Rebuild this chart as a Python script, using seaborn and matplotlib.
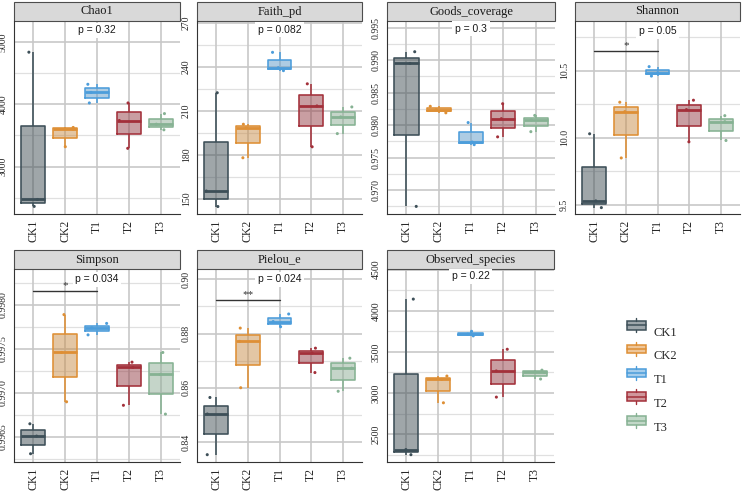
import numpy as np
import pandas as pd
import matplotlib
matplotlib.use("Agg")
import matplotlib.pyplot as plt
import seaborn as sns
from matplotlib.patches import Rectangle
from matplotlib.lines import Line2D
from matplotlib.legend_handler import HandlerBase
from matplotlib.ticker import MultipleLocator

groups = ["CK1", "CK2", "T1", "T2", "T3"]
colors = ["#3D4F58", "#DE8F35", "#4C9DDB", "#A3303A", "#86B293"]

# three replicates per group
chao1 = [[2362, 2473, 4835], [3319, 3600, 3628], [4021, 4190, 4320],
         [3293, 3739, 4021], [3590, 3680, 3850]]
faith_pd = [[144.7, 155.3, 222.4], [178.0, 198.4, 200.9], [237.5, 239.5, 250.0],
            [185.5, 213.4, 228.5], [194.5, 205.9, 212.7]]
goods_coverage = [[0.9675, 0.9895, 0.9913], [0.9819, 0.9824, 0.9829], [0.9770, 0.9774, 0.9804],
                  [0.9782, 0.9810, 0.9833], [0.9790, 0.9808, 0.9815]]
shannon = [[9.48, 9.53, 10.03], [9.85, 10.195, 10.265], [10.46, 10.485, 10.53],
           [9.97, 10.21, 10.28], [9.98, 10.12, 10.165]]
simpson = [[0.99631, 0.99651, 0.99665], [0.99690, 0.99746, 0.99789], [0.99766, 0.99774, 0.99779],
           [0.99686, 0.99729, 0.99735], [0.99676, 0.99721, 0.99746]]
pielou_e = [[0.8353, 0.8503, 0.8564], [0.8600, 0.8771, 0.8820], [0.8825, 0.8844, 0.8872],
            [0.8656, 0.8728, 0.8746], [0.8587, 0.8672, 0.8709]]
observed_species = [[2250, 2312, 4142], [2881, 3166, 3206], [3695, 3715, 3750],
                    [2950, 3268, 3532], [3170, 3250, 3278]]

metric_names = ["Chao1", "Faith_pd", "Goods_coverage", "Shannon", "Simpson", "Pielou_e", "Observed_species"]
metric_values = [chao1, faith_pd, goods_coverage, shannon, simpson, pielou_e, observed_species]
p_labels = ["p = 0.32", "p = 0.082", "p = 0.3", "p = 0.05", "p = 0.034", "p = 0.024", "p = 0.22"]
sig_labels = [None, None, None, "*", "*", "**", None]

# layout: (ylim, major step, minor step, tick format, y of p label, y of sig bar)
panel_axes = [
    ((2240, 5335), 1000, 500, "%d", 5186, None),
    ((139.6, 271.4), 30, 15, "%d", 265.5, None),
    ((0.96633, 0.99603), 0.005, 0.0025, "%.3f", 0.99486, None),
    ((9.4325, 10.87), 0.5, 0.25, "%.1f", 10.795, 10.645),
    ((0.996216, 0.998408), 0.0005, 0.00025, "%.4f", 0.998291, 0.998163),
    ((0.8326, 0.9038), 0.02, 0.01, "%.2f", 0.900, 0.89239),
    ((2161, 4508), 500, 250, "%d", 4419, None),
]

# pixel boxes of panels (left, right, top, bottom)
cols = [(14, 180), (197, 362), (387, 555), (575, 740)]
rows = [(21, 214), (269, 462)]
W, H = 743, 492
strip_px = 19
grid_col = "#C8C8C8"

sns.set_style("white")
plt.rcParams["font.family"] = ["Liberation Serif", "DejaVu Serif"]


class BoxKey(HandlerBase):
    def create_artists(self, legend, orig_handle, x0, y0, width, height, fontsize, trans):
        c = orig_handle.get_color()
        cx = x0 + width / 2
        box = Rectangle((x0, y0 + 0.2 * height), width, 0.6 * height,
                        facecolor=matplotlib.colors.to_rgba(c, 0.5), edgecolor=c, lw=1.1,
                        transform=trans)
        med = Line2D([x0, x0 + width], [y0 + 0.5 * height] * 2,
                     color=c, lw=1.1, transform=trans)
        w1 = Line2D([cx, cx], [y0, y0 + 0.2 * height], color=c, lw=1.0, transform=trans)
        w2 = Line2D([cx, cx], [y0 + 0.8 * height, y0 + height], color=c, lw=1.0, transform=trans)
        return [box, med, w1, w2]


fig = plt.figure(figsize=(W / 100, H / 100), dpi=100)
np.random.seed(3)

for i, (name, values) in enumerate(zip(metric_names, metric_values)):
    r, c = divmod(i, 4)
    x1, x2 = cols[c]
    t, b = rows[r]
    if r == 1 and c == 2:
        x1, x2 = 387, 554
    ax = fig.add_axes([x1 / W, 1 - b / H, (x2 - x1) / W, (b - t) / H])

    df = pd.DataFrame([(g, v) for g, vals in zip(groups, values) for v in vals],
                      columns=["group", "value"])
    ylim, major, minor, fmt, p_y, bar_y = panel_axes[i]

    # vertical grid at each group (seaborn switches the categorical grid off)
    for k in range(len(groups)):
        ax.axvline(k, color=grid_col, lw=1.2, zorder=0.6)

    # translucent fill
    sns.boxplot(data=df, x="group", y="value", hue="group", order=groups, hue_order=groups,
                palette=colors, width=0.75, whis=(0, 100), showcaps=False, showfliers=False,
                linewidth=0, boxprops=dict(alpha=0.5), legend=False, ax=ax)
    # outlines, whiskers, median in the group colour
    sns.boxplot(data=df, x="group", y="value", hue="group", order=groups, hue_order=groups,
                palette=colors, width=0.75, whis=(0, 100), showcaps=False, showfliers=False,
                fill=False, linewidth=1.15, medianprops=dict(linewidth=2.0), legend=False, ax=ax)
    sns.stripplot(data=df, x="group", y="value", hue="group", order=groups, hue_order=groups,
                  palette=colors, jitter=0.32, size=2.2, legend=False, ax=ax, zorder=3)

    ax.set_xlim(-0.6, 4.6)
    ax.set_ylim(*ylim)
    ax.set_xlabel("")
    ax.set_ylabel("")

    major_ticks = [v for v in MultipleLocator(major).tick_values(*ylim) if ylim[0] <= v <= ylim[1]]
    minor_ticks = [v for v in MultipleLocator(minor).tick_values(*ylim) if ylim[0] <= v <= ylim[1]]
    ax.set_yticks(minor_ticks, minor=True)
    ax.set_yticks(major_ticks)
    ax.set_yticklabels([fmt % v for v in major_ticks], rotation=90, va="center", fontsize=7,
                       color="#262626")
    ax.set_xticks(range(len(groups)))
    ax.set_xticklabels(groups, rotation=90, fontsize=8.5, color="#262626")

    ax.set_axisbelow(True)
    ax.tick_params(which="major", length=3, width=0.8, color="#333333", pad=1.5)
    ax.tick_params(which="minor", length=0)
    ax.yaxis.grid(True, which="major", color=grid_col, lw=1.2)
    ax.yaxis.grid(True, which="minor", color="#E0E0E0", lw=0.9)
    for s in ["top", "right"]:
        ax.spines[s].set_visible(False)
    for s in ["left", "bottom"]:
        ax.spines[s].set_color("#333333")
        ax.spines[s].set_linewidth(0.8)

    # facet strip
    sh = strip_px / (b - t)
    ax.add_patch(Rectangle((0, 1), 1, sh, transform=ax.transAxes, clip_on=False,
                           facecolor="#D9D9D9", edgecolor="#4D4D4D", lw=0.8))
    ax.text(0.5, 1 + sh / 2, name, transform=ax.transAxes, ha="center", va="center",
            fontsize=9, color="#1A1A1A")

    ax.text(2, p_y, p_labels[i], ha="center", va="center", fontsize=7.5,
            family="Liberation Sans", color="#1A1A1A",
            bbox=dict(boxstyle="square,pad=0.25", fc="white", ec="none"), zorder=4)

    if sig_labels[i] is not None:
        ax.plot([0, 2], [bar_y, bar_y], color="#333333", lw=1.0, zorder=4)
        ax.annotate(sig_labels[i], (1, bar_y), xytext=(0, 0.5), textcoords="offset points",
                    ha="center", va="bottom", fontsize=8, color="#333333", zorder=4)

handles = [Line2D([], [], color=col) for col in colors]
fig.legend(handles, groups, handler_map={Line2D: BoxKey()}, loc="center left",
           bbox_to_anchor=(622 / W, 1 - 379 / H), frameon=False, fontsize=9,
           borderaxespad=0, borderpad=0.4,
           handlelength=1.5, handleheight=1.4, labelspacing=0.75, handletextpad=0.6)

fig.savefig("out.png", dpi=100)
